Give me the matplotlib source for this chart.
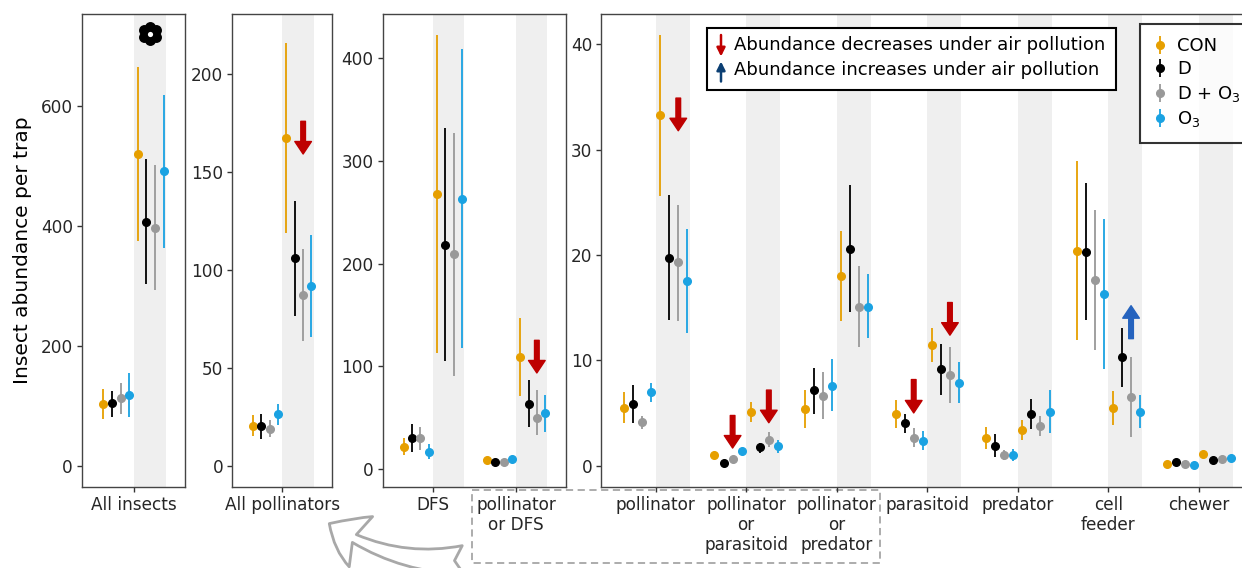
import matplotlib
matplotlib.use("Agg")
import matplotlib.pyplot as plt
from matplotlib.patches import Rectangle, FancyArrowPatch
import numpy as np

plt.rcParams['font.family'] = ['DejaVu Sans']
plt.rcParams['mathtext.default'] = 'regular'

W, H = 1242, 568

series = ["CON", "D", "D + O$_3$", "O$_3$"]
colors = ["#E69F00", "#000000", "#999999", "#1AA2E2"]

# --- All insects ---
cats_a = ["All insects"]
a_mean1 = [[104], [105], [113], [119]]
a_lo1 = [[78], [82], [86], [81]]
a_hi1 = [[129], [125], [139], [155]]
a_mean2 = [[520], [407], [397], [492]]
a_lo2 = [[375], [304], [293], [364]]
a_hi2 = [[665], [511], [501], [619]]

# --- All pollinators ---
cats_b = ["All pollinators"]
b_mean1 = [[20.5], [20.2], [19.1], [26.3]]
b_lo1 = [[15.4], [13.9], [15.0], [21.1]]
b_hi1 = [[25.8], [26.6], [23.3], [31.6]]
b_mean2 = [[167.6], [106], [87.1], [91.8]]
b_lo2 = [[119], [76.6], [64], [65.7]]
b_hi2 = [[216], [135.4], [110.7], [117.7]]

# --- DFS ---
cats_c = ["DFS", "pollinator\nor DFS"]
c_mean1 = [[21.9, 8.9], [30.7, 6.8], [30.7, 7.1], [17, 10]]
c_lo1 = [[13.5, 7.6], [16.6, 5.6], [18.8, 5.9], [10, 8.6]]
c_hi1 = [[30, 10.2], [44.2, 8.0], [41.3, 8.3], [24, 11.4]]
c_mean2 = [[268, 109.6], [218, 63.6], [209.6, 50.2], [263, 54.8]]
c_lo2 = [[113, 71.4], [105, 40.7], [91, 33.6], [118, 36]]
c_hi2 = [[423, 147.4], [332, 86.6], [327.5, 76.7], [409, 72.5]]

# --- functional groups ---
cats_d = ["pollinator", "pollinator\nor\nparasitoid", "pollinator\nor\npredator",
          "parasitoid", "predator", "cell\nfeeder", "chewer"]
d_mean1 = [[5.5, 1.0, 5.37, 4.92, 2.62, 20.4, 0.14],
           [5.9, 0.25, 7.16, 4.07, 1.93, 20.3, 0.38],
           [4.13, 0.62, 6.6, 2.62, 1.0, 17.65, 0.18],
           [7.0, 1.38, 7.6, 2.37, 1.0, 16.3, 0.04]]
d_lo1 = [[4.07, 0.85, 3.55, 3.55, 1.59, 11.9, 0.05],
         [4.1, 0.15, 4.92, 3.07, 0.8, 13.8, 0.25],
         [3.45, 0.5, 4.4, 1.75, 0.56, 11.0, 0.1],
         [6.06, 1.15, 5.2, 1.48, 0.45, 9.2, 0.0]]
d_hi1 = [[7.0, 1.15, 7.19, 6.23, 3.65, 28.9, 0.25],
         [7.7, 0.35, 9.33, 4.95, 3.03, 26.8, 0.5],
         [4.75, 0.75, 8.9, 3.55, 1.52, 24.3, 0.28],
         [7.9, 1.6, 10.1, 3.3, 1.59, 23.4, 0.12]]
d_mean2 = [[33.3, 5.13, 18.0, 11.5, 3.37, 5.47, 1.14],
           [19.75, 1.75, 20.6, 9.15, 4.92, 10.3, 0.52],
           [19.3, 2.5, 15.1, 8.64, 3.76, 6.5, 0.62],
           [17.5, 1.9, 15.1, 7.9, 5.13, 5.13, 0.76]]
d_lo2 = [[25.6, 4.13, 13.7, 9.9, 2.45, 3.92, 1.0],
         [13.8, 1.24, 14.6, 6.7, 3.48, 7.5, 0.4],
         [13.7, 1.8, 11.3, 6.0, 2.79, 2.72, 0.5],
         [12.6, 1.24, 12.1, 5.95, 3.07, 3.58, 0.65]]
d_hi2 = [[40.9, 6.1, 22.3, 13.1, 4.33, 7.09, 1.3],
         [25.7, 2.2, 26.7, 11.6, 6.34, 13.1, 0.65],
         [24.8, 3.2, 19.0, 11.3, 4.75, 10.3, 0.75],
         [22.5, 2.5, 18.2, 9.85, 7.19, 6.68, 0.88]]

# effect arrows: (panel, category index, dodge offset, y start, y end, colour)
effect_arrows = [
    (1, 0, 0.25, 176, 159.3, "#BE0000"),
    (2, 1, 0.25, 125.4, 93.6, "#BE0000"),
    (3, 0, 0.25, 34.9, 31.8, "#BE0000"),
    (3, 1, -0.15, 4.78, 1.69, "#BE0000"),
    (3, 1, 0.25, 7.19, 4.09, "#BE0000"),
    (3, 3, -0.15, 8.19, 5.02, "#BE0000"),
    (3, 3, 0.25, 15.5, 12.4, "#BE0000"),
    (3, 5, 0.25, 12.07, 15.2, "#2563BE"),
]

fig = plt.figure(figsize=(W / 100, H / 100), dpi=100)


def px_axes(x0, x1, y0=13.8, y1=486.5):
    return fig.add_axes([x0 / W, 1 - y1 / H, (x1 - x0) / W, (y1 - y0) / H])


panels = [
    (px_axes(82, 185), cats_a, (a_mean1, a_lo1, a_hi1, a_mean2, a_lo2, a_hi2),
     (-34.4, 754), [0, 200, 400, 600]),
    (px_axes(232.3, 332.3), cats_b, (b_mean1, b_lo1, b_hi1, b_mean2, b_lo2, b_hi2),
     (-10.5, 230.9), [0, 50, 100, 150, 200]),
    (px_axes(382.7, 566), cats_c, (c_mean1, c_lo1, c_hi1, c_mean2, c_lo2, c_hi2),
     (-17, 443.5), [0, 100, 200, 300, 400]),
    (px_axes(601.3, 1253.3), cats_d, (d_mean1, d_lo1, d_hi1, d_mean2, d_lo2, d_hi2),
     (-1.96, 42.9), [0, 10, 20, 30, 40]),
]

handles = []
for p, (ax, cats, dat, ylim, yt) in enumerate(panels):
    m1, l1, h1, m2, l2, h2 = [np.array(d, dtype=float) for d in dat]
    xc = np.arange(len(cats))
    for c in xc:
        ax.axvspan(c, c + 0.375, color="#EFEFEF", zorder=0, lw=0)
    for i in range(4):
        for m, lo, hi, base in ((m1, l1, h1, -0.35), (m2, l2, h2, 0.05)):
            eb = ax.errorbar(xc + base + 0.1 * i, m[i], yerr=[m[i] - lo[i], hi[i] - m[i]],
                             fmt='o', ms=5.5, color=colors[i], mec=colors[i],
                             elinewidth=1.3, capsize=0, zorder=3, label=series[i])
            if p == 0 and base < 0:
                handles.append(eb)
    ax.set_xlim(-0.6, len(cats) - 0.4)
    ax.set_ylim(*ylim)
    ax.set_yticks(yt)
    ax.set_xticks(xc)
    ax.set_xticklabels(cats, linespacing=1.15)
    ax.tick_params(labelsize=12.2, length=3.5, width=1, color="#333333",
                   labelcolor="#262626", pad=3)
    for s in ax.spines.values():
        s.set_color("#444444")
        s.set_linewidth(1.0)
    for (pp, ci, off, ys, ye, col) in effect_arrows:
        if pp == p:
            ax.annotate("", xy=(ci + off, ye), xytext=(ci + off, ys),
                        arrowprops=dict(arrowstyle="simple,head_length=0.75,head_width=1.0,tail_width=0.28",
                                        color=col, mutation_scale=12, shrinkA=0, shrinkB=0),
                        zorder=4)

fig.text(22.5 / W, 1 - 250 / H, "Insect abundance per trap", rotation=90,
         fontsize=14.5, ha="center", va="center")

leg = fig.legend(handles, series, loc="upper left", bbox_to_anchor=(1140 / W, 1 - 23.5 / H),
                 frameon=True, fancybox=False, edgecolor="black", fontsize=13,
                 handlelength=0.7, handletextpad=0.6, labelspacing=0.3, borderpad=0.75,
                 borderaxespad=0)
leg.get_frame().set_linewidth(1.5)

# overlays in pixel coordinates for the annotation boxes
ov = fig.add_axes([0, 0, 1, 1], zorder=-1)
ov.set_xlim(0, W)
ov.set_ylim(H, 0)
ov.axis("off")
ov.patch.set_alpha(0)

top = fig.add_axes([0, 0, 1, 1], zorder=10)
top.set_xlim(0, W)
top.set_ylim(H, 0)
top.axis("off")
top.patch.set_alpha(0)

# significance flower above "All insects"
ang = np.deg2rad(np.arange(0, 360, 60) + 90)
top.scatter(150 + 6.4 * np.cos(ang), 33.5 + 6.4 * np.sin(ang), s=62, color="black", lw=0)
top.scatter([150], [33.5], s=50, color="black", lw=0)
top.scatter([150], [33.5], s=14, color="white", lw=0)

top.add_patch(Rectangle((706.7, 28.3), 409, 61.5, fill=True, facecolor="white",
                        edgecolor="black", lw=1.5))
top.annotate("", xy=(721, 56.5), xytext=(721, 35),
             arrowprops=dict(arrowstyle="-|>,head_length=0.5,head_width=0.25",
                             color="#C00000", lw=1.8, shrinkA=0, shrinkB=0))
top.annotate("", xy=(721, 61.5), xytext=(721, 81.5),
             arrowprops=dict(arrowstyle="-|>,head_length=0.5,head_width=0.25",
                             color="#0B3F73", lw=1.8, shrinkA=0, shrinkB=0))
top.text(734, 45.3, "Abundance decreases under air pollution", fontsize=13,
         va="center", ha="left")
top.text(734, 69.9, "Abundance increases under air pollution", fontsize=13,
         va="center", ha="left")

ov.add_patch(Rectangle((471.7, 489.8), 408.3, 73, fill=False, edgecolor="#A6A6A6",
                       lw=1.3, ls=(0, (4, 2.5))))
top.add_patch(FancyArrowPatch((466, 560), (327, 522),
                              arrowstyle="fancy,head_length=1.25,head_width=1.9,tail_width=1.0",
                              connectionstyle="arc3,rad=-0.18", mutation_scale=21,
                              facecolor="white", edgecolor="#A8A8A8", lw=2.0))

fig.savefig("out.png", dpi=100)
